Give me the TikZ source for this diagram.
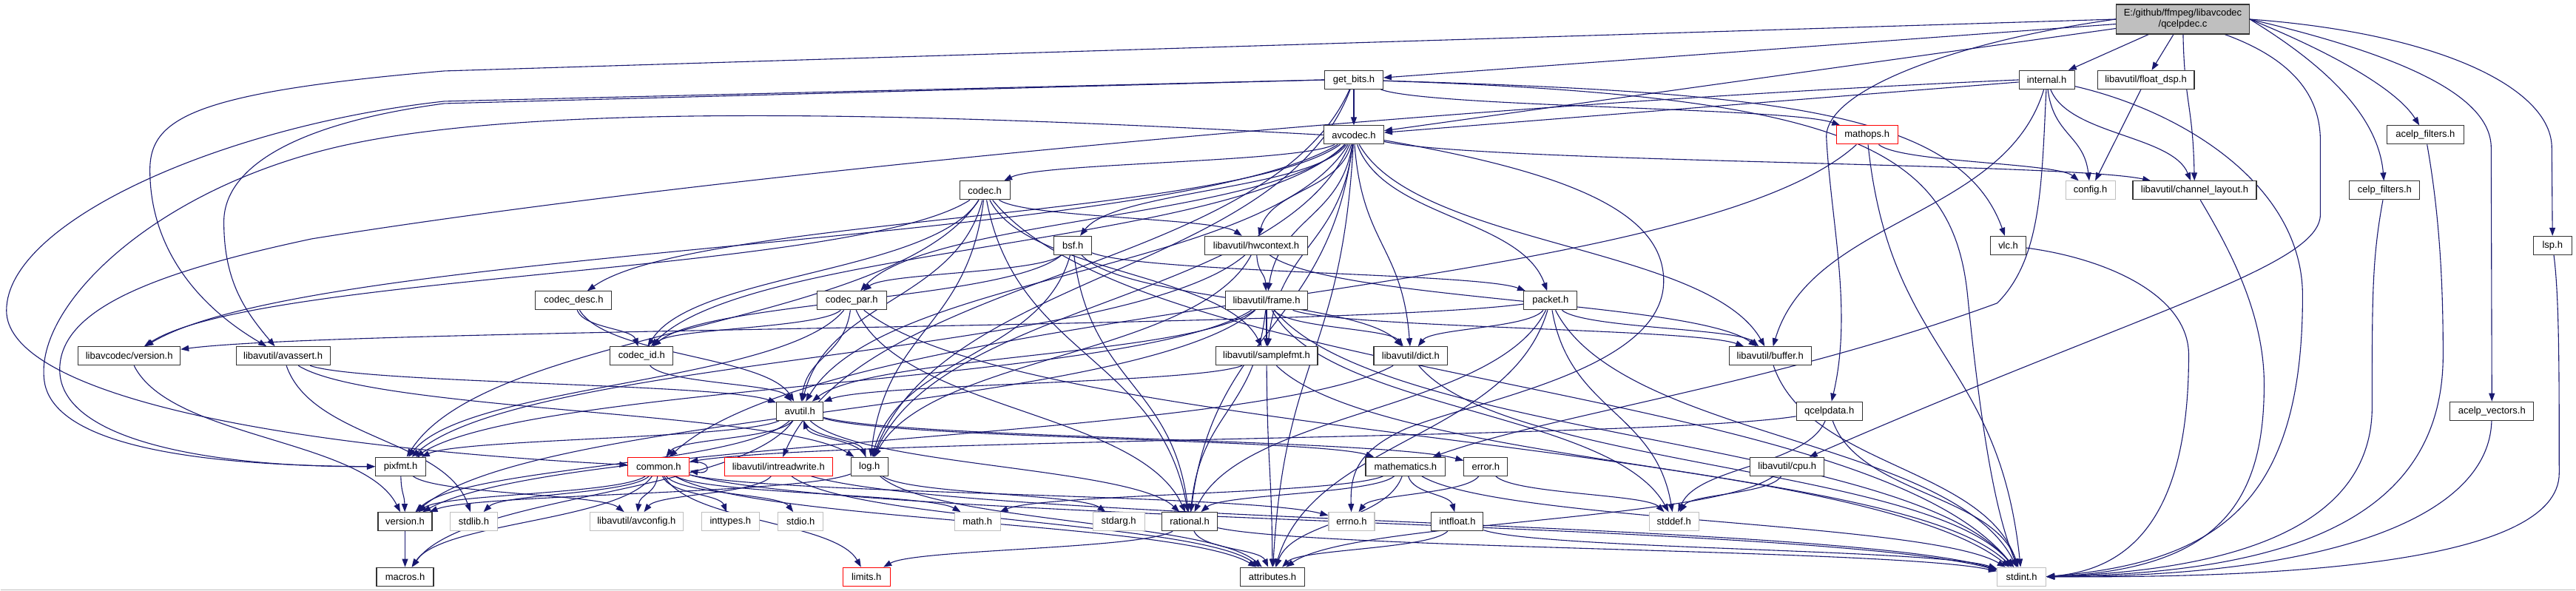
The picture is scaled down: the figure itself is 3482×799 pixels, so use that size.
\documentclass[tikz,border=0pt]{standalone}
\usepackage{fontspec}
\setmainfont{Liberation Sans}
\usetikzlibrary{arrows.meta,calc}
\pgfdeclarelayer{back}
\pgfdeclarelayer{edges}
\pgfsetlayers{back,edges,main}
\definecolor{ecol}{HTML}{191970}
\definecolor{gcol}{HTML}{BFBFBF}
\definecolor{rcol}{HTML}{FF0000}
\definecolor{bcol}{HTML}{333333}
\tikzset{
  nb/.style={draw=bcol, line width=1.1pt, fill=white, minimum height=25pt, inner sep=0pt, font=\fontsize{13}{15}\selectfont},
  gb/.style={nb, draw=gcol},
  rb/.style={nb, draw=rcol},
  e/.style={draw=ecol, line width=1.1pt, -{Triangle[length=11pt,width=8pt]}},
}
\newcommand\ed[2]{%
  \path ($(#1)!.5!(#2)$) coordinate (m) (#1 |- m) coordinate (ma) (#2 |- m) coordinate (mb);
  \draw[e] (#1) .. controls ($(ma)!.3!(m)$) and ($(mb)!.3!(m)$) .. (#2);}
\newcommand\es[2]{\draw[e] (#1) -- (#2);}
\begin{document}
\begin{tikzpicture}[x=1pt,y=-1pt]
\begin{pgfonlayer}{back}
\fill[white] (0,0) rectangle (3482,799);
\draw[gcol,line width=1.5pt] (0,798) -- (3482,798);
\end{pgfonlayer}
\useasboundingbox (0,0) rectangle (3482,799);
% nodes
\node[nb,align=center,fill=gcol,minimum width=180pt,minimum height=40pt] (qc) at (2951,26) {E:/github/ffmpeg/libavcodec\\/qcelpdec.c};
\node[nb,minimum width=79pt] (getbits) at (1830,108) {get\_bits.h};
\node[nb,minimum width=75pt] (internal) at (2767,108) {internal.h};
\node[nb,minimum width=131pt] (floatdsp) at (2901,108) {libavutil/float\_dsp.h};
\node[nb,minimum width=81pt] (avcodec) at (1830,182.5) {avcodec.h};
\node[rb,minimum width=83pt] (mathops) at (2524,182.5) {mathops.h};
\node[nb,minimum width=104pt] (acelpf) at (3279,182.5) {acelp\_filters.h};
\node[nb,minimum width=68pt] (codec) at (1331,257.5) {codec.h};
\node[gb,minimum width=67pt] (config) at (2826,257.5) {config.h};
\node[nb,minimum width=167pt] (chlayout) at (2967,257.5) {libavutil/channel\_layout.h};
\node[nb,minimum width=95pt] (celpf) at (3224,257.5) {celp\_filters.h};
\node[nb,minimum width=51pt] (bsf) at (1450,332) {bsf.h};
\node[nb,minimum width=139pt] (hwcontext) at (1698,332) {libavutil/hwcontext.h};
\node[nb,minimum width=48pt] (vlc) at (2715,332) {vlc.h};
\node[nb,minimum width=52pt] (lsp) at (3451,332) {lsp.h};
\node[nb,minimum width=103pt] (codecdesc) at (775,406.5) {codec\_desc.h};
\node[nb,minimum width=94pt] (codecpar) at (1151,406.5) {codec\_par.h};
\node[nb,minimum width=111pt] (frame) at (1712,406.5) {libavutil/frame.h};
\node[nb,minimum width=72pt] (packet) at (2096,406.5) {packet.h};
\node[nb,minimum width=138pt] (lversion) at (174,481.5) {libavcodec/version.h};
\node[nb,minimum width=127pt] (avassert) at (382,481.5) {libavutil/avassert.h};
\node[nb,minimum width=85pt] (codecid) at (867,481.5) {codec\_id.h};
\node[nb,minimum width=138pt] (samplefmt) at (1712,481.5) {libavutil/samplefmt.h};
\node[nb,minimum width=100pt] (dict) at (1907,481.5) {libavutil/dict.h};
\node[nb,minimum width=111pt] (buffer) at (2393,481.5) {libavutil/buffer.h};
\node[nb,minimum width=63pt] (avutil) at (1081,556) {avutil.h};
\node[nb,minimum width=89pt] (qcelpdata) at (2473,556) {qcelpdata.h};
\node[nb,minimum width=113pt] (acelpv) at (3369,556) {acelp\_vectors.h};
\node[nb,minimum width=68pt] (pixfmt) at (541,631) {pixfmt.h};
\node[rb,minimum width=83pt] (common) at (890,631) {common.h};
\node[rb,minimum width=146pt] (intreadwrite) at (1052,631) {libavutil/intreadwrite.h};
\node[nb,minimum width=50pt] (log) at (1175,631) {log.h};
\node[nb,minimum width=108pt] (mathematics) at (1900,631) {mathematics.h};
\node[nb,minimum width=59pt] (error) at (2008.5,631) {error.h};
\node[nb,minimum width=100pt] (cpu) at (2416,631) {libavutil/cpu.h};
\node[nb,minimum width=73pt] (version) at (547,705.5) {version.h};
\node[gb,minimum width=64pt] (stdlib) at (640,705.5) {stdlib.h};
\node[gb,minimum width=126pt] (avconfig) at (860,705.5) {libavutil/avconfig.h};
\node[gb,minimum width=78pt] (inttypes) at (987,705.5) {inttypes.h};
\node[gb,minimum width=61pt] (stdio) at (1082,705.5) {stdio.h};
\node[gb,minimum width=62pt] (math) at (1321,705.5) {math.h};
\node[gb,minimum width=70pt] (stdarg) at (1512,705.5) {stdarg.h};
\node[nb,minimum width=75pt] (rational) at (1608,705.5) {rational.h};
\node[gb,minimum width=62pt] (errno) at (1827,705.5) {errno.h};
\node[nb,minimum width=70pt] (intfloat) at (1970,705.5) {intfloat.h};
\node[gb,minimum width=67pt] (stddef) at (2263,705.5) {stddef.h};
\node[nb,minimum width=77pt] (macros) at (547,780) {macros.h};
\node[rb,minimum width=64pt] (limits) at (1171,780) {limits.h};
\node[nb,minimum width=87pt] (attributes) at (1720,780) {attributes.h};
\node[gb,minimum width=66pt] (stdint) at (2733,780) {stdint.h};
% edges
\begin{pgfonlayer}{edges}
% root
\draw[e] (qc.west) -- (600,96) .. controls (260,125) and (202,160) .. (202,230) .. controls (202,330) and (260,410) .. (avassert);
\es{qc}{getbits}
\es{qc}{avcodec}
\draw[e] (qc.west) .. controls (2650,55) and (2469,120) .. (2469,185) .. controls (2475,300) and (2505,420) .. (qcelpdata);
\es{qc}{internal}
\es{qc}{floatdsp}
\ed{qc}{chlayout}
\draw[e] (qc) .. controls (3100,80) and (3137,130) .. (3137,190) -- (3137,290) .. controls (3137,360) and (2900,420) .. (cpu);
\draw[e] (qc.east) .. controls (3300,45) and (3450,120) .. (3450,200) -- (lsp);
\draw[e] (qc.east) .. controls (3250,75) and (3368,130) .. (3368,200) -- (acelpv);
\draw[e] (qc.east) .. controls (3150,70) and (3240,120) .. (acelpf);
\draw[e] (qc.east) .. controls (3130,80) and (3215,150) .. (celpf);
% get_bits
\es{getbits}{avcodec}
\ed{getbits}{mathops}
\draw[e] (getbits) .. controls (2400,125) and (2650,150) .. (vlc);
\draw[e] (getbits) .. controls (2500,130) and (2640,200) .. (2660,400) .. controls (2680,600) and (2700,700) .. (stdint);
\draw[e] (getbits.west) -- (600,137) .. controls (300,170) and (8,300) .. (8,420) .. controls (8,520) and (300,600) .. (common);
\ed{getbits}{intreadwrite}
\ed{getbits}{log}
\draw[e] (getbits.west) -- (600,140) .. controls (390,168) and (302,230) .. (302,300) .. controls (302,380) and (330,420) .. (avassert);
% internal
\es{internal}{avcodec}
\ed{internal}{config}
\ed{internal}{chlayout}
\ed{internal}{buffer}
\draw[e] (internal) .. controls (2760,250) and (2760,350) .. (2700,410) .. controls (2400,520) and (2100,560) .. (mathematics);
\draw[e] (internal) .. controls (2950,150) and (3113,250) .. (3113,400) .. controls (3113,680) and (3000,760) .. (stdint.east);
\draw[e] (internal.west) .. controls (2000,140) and (1000,230) .. (421,323) .. controls (200,370) and (80,420) .. (80,500) .. controls (80,600) and (300,632) .. (pixfmt.west);
\es{floatdsp}{config}
% avcodec
\draw[e] (avcodec) .. controls (2100,230) and (2249,280) .. (2249,380) .. controls (2249,500) and (2000,540) .. (1900,580) .. controls (1835,610) and (1825,640) .. (errno);
\ed{avcodec}{samplefmt}
\ed{avcodec}{attributes}
\ed{avcodec}{avutil}
\ed{avcodec}{buffer}
\ed{avcodec}{chlayout}
\ed{avcodec}{dict}
\ed{avcodec}{frame}
\ed{avcodec}{hwcontext}
\ed{avcodec}{log}
\draw[e] (avcodec.west) .. controls (1200,150) and (700,140) .. (450,200) .. controls (200,260) and (40,420) .. (60,520) .. controls (80,610) and (300,630) .. (pixfmt.west);
\ed{avcodec}{rational}
\ed{avcodec}{bsf}
\ed{avcodec}{codec}
\ed{avcodec}{codecdesc}
\ed{avcodec}{codecpar}
\ed{avcodec}{codecid}
\ed{avcodec}{packet}
\ed{avcodec}{lversion}
% mathops
\ed{mathops}{config}
\ed{mathops}{stdint}
\ed{mathops}{common}
% right column to stdint
\draw[e] (chlayout) .. controls (3010,330) and (3061,420) .. (3061,520) .. controls (3061,680) and (3000,770) .. (stdint.east);
\draw[e] (celpf) .. controls (3207,350) and (3207,400) .. (3207,550) .. controls (3207,700) and (3050,770) .. (stdint.east);
\draw[e] (acelpf) .. controls (3300,300) and (3303,400) .. (3303,480) .. controls (3303,700) and (3100,775) .. (stdint.east);
\draw[e] (acelpv) .. controls (3365,700) and (3150,780) .. (stdint.east);
\draw[e] (lsp) .. controls (3460,400) and (3460,500) .. (3460,640) .. controls (3460,760) and (3100,782) .. (stdint.east);
\draw[e] (vlc) .. controls (2850,350) and (2959,400) .. (2959,480) .. controls (2959,700) and (2880,770) .. (stdint.east);
% codec
\ed{codec}{stdint}
\ed{codec}{avutil}
\ed{codec}{hwcontext}
\ed{codec}{log}
\ed{codec}{pixfmt}
\ed{codec}{rational}
\ed{codec}{samplefmt}
\ed{codec}{codecid}
\ed{codec}{lversion}
% bsf
\ed{bsf}{dict}
\ed{bsf}{log}
\ed{bsf}{rational}
\ed{bsf}{codecid}
\ed{bsf}{codecpar}
\ed{bsf}{packet}
% hwcontext
\ed{hwcontext}{buffer}
\ed{hwcontext}{frame}
\ed{hwcontext}{log}
\ed{hwcontext}{pixfmt}
% codec_desc / codec_par
\ed{codecdesc}{avutil}
\ed{codecdesc}{codecid}
\ed{codecpar}{stdint}
\ed{codecpar}{avutil}
\ed{codecpar}{rational}
\ed{codecpar}{pixfmt}
\ed{codecpar}{codecid}
% frame
\ed{frame}{stddef}
\ed{frame}{stdint}
\ed{frame}{avutil}
\ed{frame}{buffer}
\ed{frame}{dict}
\ed{frame}{rational}
\ed{frame}{samplefmt}
\ed{frame}{pixfmt}
\ed{frame}{version}
% packet
\ed{packet}{stddef}
\ed{packet}{stdint}
\ed{packet}{attributes}
\ed{packet}{buffer}
\ed{packet}{dict}
\ed{packet}{rational}
\ed{packet}{lversion}
% row 6
\ed{lversion}{version}
\ed{avassert}{stdlib}
\ed{avassert}{avutil}
\ed{avassert}{log}
\ed{codecid}{avutil}
\ed{samplefmt}{stdint}
\ed{samplefmt}{avutil}
\ed{samplefmt}{attributes}
\ed{dict}{stdint}
\ed{dict}{version}
\ed{buffer}{stdint}
% avutil
\ed{avutil}{common}
\ed{avutil}{error}
\ed{avutil}{rational}
\ed{avutil}{version}
\ed{avutil}{macros}
\ed{avutil}{mathematics}
\ed{avutil}{log}
\ed{avutil}{pixfmt}
% qcelpdata
\ed{qcelpdata}{stddef}
\ed{qcelpdata}{stdint}
\ed{qcelpdata}{common}
% row 8
\ed{pixfmt}{avconfig}
\ed{pixfmt}{version}
\ed{common}{errno}
\ed{common}{inttypes}
\ed{common}{limits}
\ed{common}{math}
\ed{common}{stdint}
\ed{common}{stdio}
\ed{common}{stdlib}
\ed{common}{attributes}
\ed{common}{macros}
\ed{common}{version}
\ed{common}{avconfig}
\draw[e] ($(common.north east)+(0,7)$) .. controls (962,622) and (962,642) .. ($(common.south east)+(0,-7)$);
\ed{intreadwrite}{stdint}
\ed{intreadwrite}{avconfig}
\ed{intreadwrite}{attributes}
\ed{log}{stdarg}
\ed{log}{avutil}
\ed{log}{attributes}
\ed{log}{version}
\ed{mathematics}{stdint}
\ed{mathematics}{math}
\ed{mathematics}{attributes}
\ed{mathematics}{rational}
\ed{mathematics}{intfloat}
\ed{error}{errno}
\ed{error}{stddef}
\ed{cpu}{stddef}
\ed{cpu}{attributes}
% row 9
\ed{version}{macros}
\ed{rational}{stdint}
\ed{rational}{limits}
\ed{rational}{attributes}
\ed{intfloat}{stdint}
\ed{intfloat}{attributes}
\end{pgfonlayer}
\end{tikzpicture}
\end{document}
